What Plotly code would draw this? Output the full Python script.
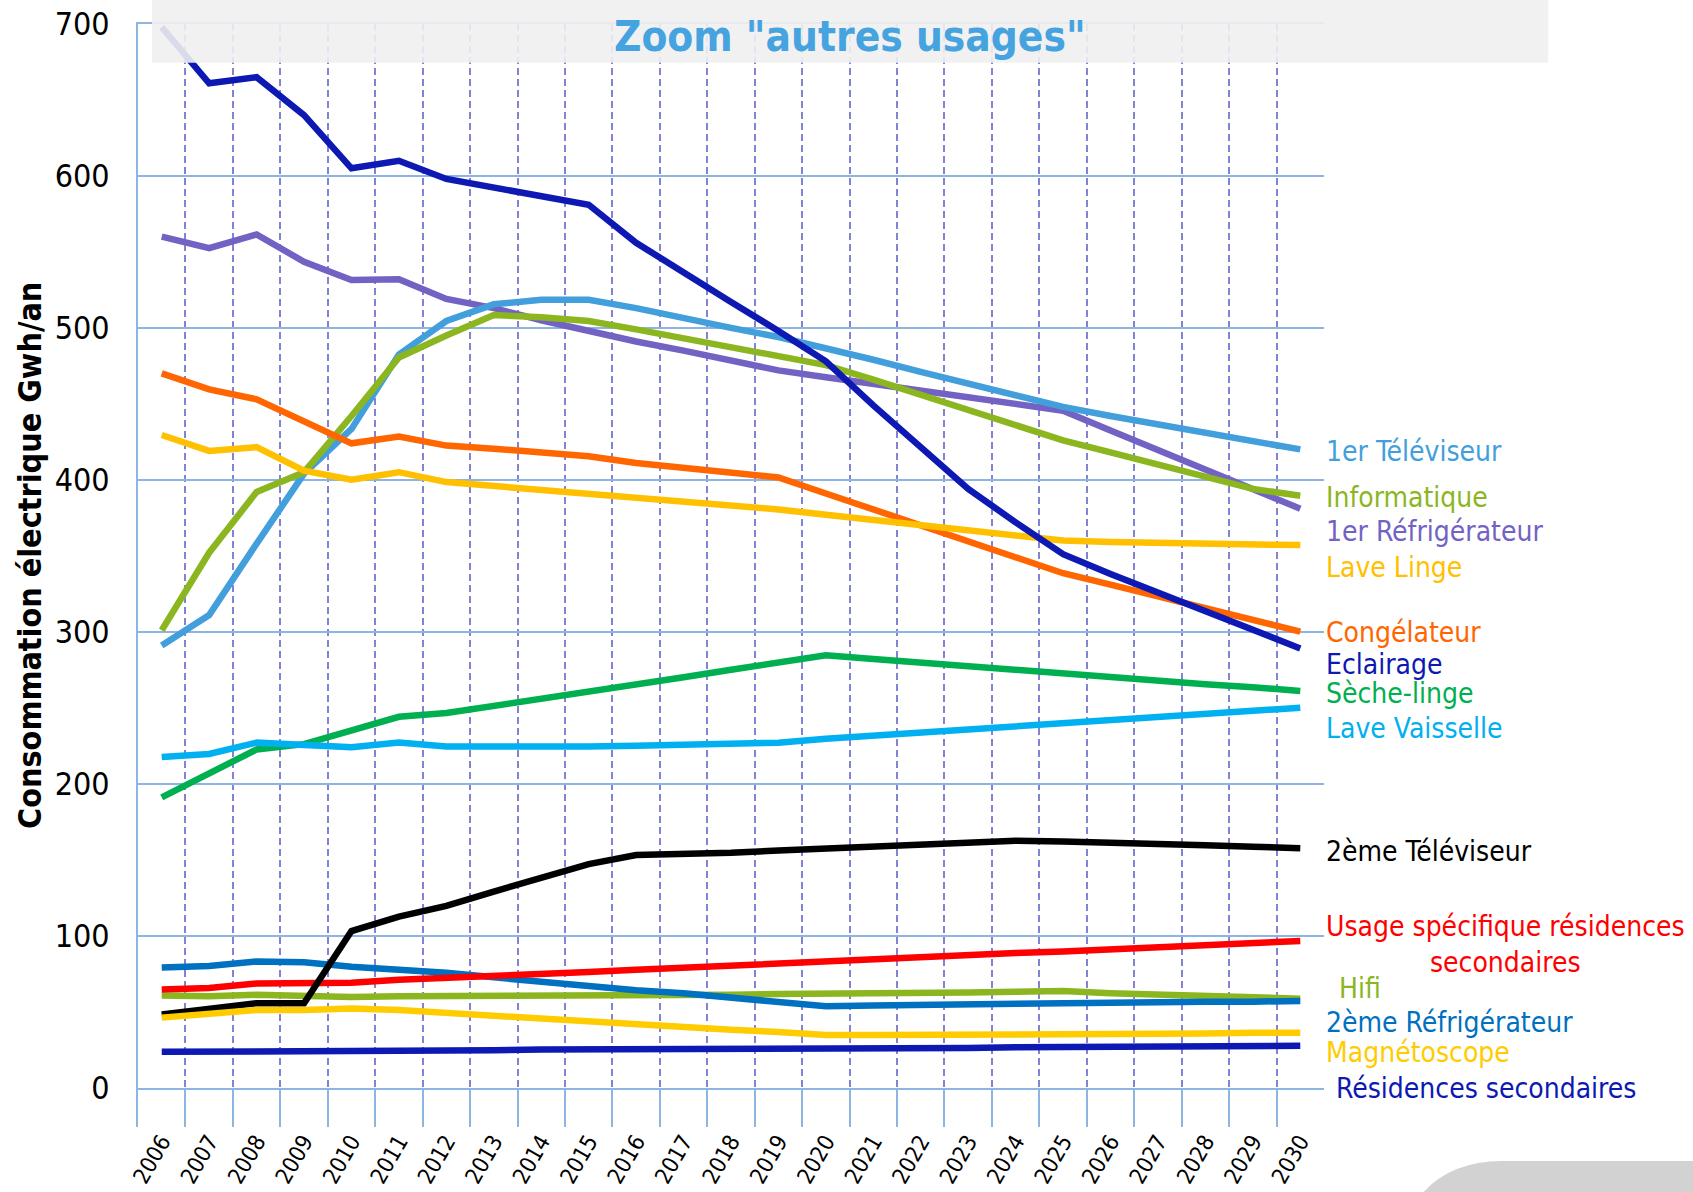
import plotly.graph_objects as go

years = [str(y) for y in range(2006, 2031)]

eclairage = [698, 661, 665, 640, 605, 610, 598, 592, 587, 581, 556, 536, 517, 498, 478, 449, 421, 394, 372, 351, 338, 326, 314, 301, 289]
refrig1 = [560, 552.5, 561.5, 543.5, 531.5, 532, 519, 513, 505, 497.5, 491, 485, 478, 472, 467.5, 463, 459, 454, 450, 445.5, 432.5, 419.5, 406.5, 393.5, 381]
televiseur1 = [291, 311, 358, 404, 433.5, 482.5, 504.5, 515.5, 518.5, 518.5, 513, 506, 500, 494, 487, 479, 471, 463.5, 456, 448, 442, 436.5, 431, 425, 420]
informatique = [301, 352, 392, 405, 442, 480.5, 495, 508.5, 507, 504.5, 499, 493, 487, 481, 475.5, 466, 456, 446, 436, 426, 418, 410, 402, 394, 389.5]
congelateur = [470, 459.5, 453, 439, 424, 428.5, 422.5, 420.5, 418.5, 415.5, 411, 408, 405, 401.5, 391, 380.5, 370, 359.5, 349, 338.5, 331, 323, 315.5, 308, 300]
lave_linge = [429.5, 419, 421.5, 406, 400, 405, 398.5, 396, 393.5, 391.5, 389, 386.5, 383.5, 380.5, 377, 373.5, 370, 366.5, 363, 360, 359, 358.5, 358, 357.5, 357]
seche_linge = [191, 207, 222.5, 226, 235, 244, 246.5, 251, 256, 260.5, 265, 270, 275, 279.5, 284.5, 282, 279.5, 277.5, 275, 272.5, 270.5, 268, 265.5, 263.5, 261]
lave_vaisselle = [217.5, 219.5, 227, 225.5, 224, 227, 224.5, 224.5, 224, 224.5, 225, 225.5, 226, 227, 229.5, 231.5, 233.5, 235.5, 237.5, 239.5, 242, 244, 246, 248, 250]
televiseur2 = [48, 51.5, 55.5, 55.5, 103, 112.5, 119.5, 129, 138, 147, 153, 153.5, 154.5, 156, 157.5, 158.5, 160, 161.5, 162.5, 162, 161.5, 160.5, 159.5, 158.5, 157.5]
usage_rs = [64.5, 65.5, 68.5, 68.5, 69, 71, 72, 73.5, 74.5, 76, 77.5, 79, 80, 81.5, 82.5, 84, 85.5, 87, 88.5, 89.5, 91, 92.5, 93.5, 95, 96.5]
hifi = [60.5, 60, 61, 60, 59.5, 60, 60, 60, 60, 60, 60.5, 61, 61, 61.5, 61.5, 62, 62, 62.5, 63, 63.5, 62, 61, 60, 59.5, 58.5]
refrig2 = [79, 80, 83, 82.5, 79.5, 78, 75.5, 72.5, 69.5, 67, 64, 62, 59.5, 56.5, 53.5, 54, 54.5, 54.5, 55, 55.5, 56, 56, 56.5, 56.5, 57]
magnetoscope = [46, 49, 51, 51, 52, 51, 49, 47, 45.5, 43.5, 42, 40, 38, 36.5, 34.5, 34.5, 34.5, 34.5, 34.5, 35, 35, 35.5, 35.5, 36, 36]
residences = [23.5, 23.5, 24.5, 24, 24, 24.5, 24.5, 24.5, 25, 25, 25, 25.5, 25.5, 25.5, 25.5, 26, 26, 26, 26.5, 26.5, 26.5, 26.5, 27, 27, 27.5]

# drawing order (first = bottom)
series = [
    ("1er Réfrigérateur", refrig1, "#7262c4"),
    ("1er Téléviseur", televiseur1, "#429fdc"),
    ("Informatique", informatique, "#8bb61f"),
    ("Congélateur", congelateur, "#ff6600"),
    ("Lave Linge", lave_linge, "#ffc000"),
    ("Eclairage", eclairage, "#0d19b2"),
    ("Sèche-linge", seche_linge, "#00b050"),
    ("Lave Vaisselle", lave_vaisselle, "#00b0f0"),
    ("Hifi", hifi, "#8bb61f"),
    ("2ème Réfrigérateur", refrig2, "#0070c0"),
    ("Usage spécifique résidences secondaires", usage_rs, "#ff0000"),
    ("2ème Téléviseur", televiseur2, "#000000"),
    ("Magnétoscope", magnetoscope, "#ffcc00"),
    ("Résidences secondaires", residences, "#0d19b2"),
]

# right-hand labels: text, colour, paper y, paper x
labels = [
    ("1er Téléviseur", "#429fdc", 0.6120, 1.0),
    ("Informatique", "#8bb61f", 0.5703, 1.0),
    ("1er Réfrigérateur", "#7262c4", 0.5403, 1.0),
    ("Lave Linge", "#ffc000", 0.5077, 1.0),
    ("Congélateur", "#ff6600", 0.4480, 1.0),
    ("Eclairage", "#0d19b2", 0.4195, 1.0),
    ("Sèche-linge", "#00b050", 0.3930, 1.0),
    ("Lave Vaisselle", "#00b0f0", 0.3617, 1.0),
    ("2ème Téléviseur", "#000000", 0.2502, 1.0),
    ("Usage spécifique résidences<br>secondaires", "#ff0000", 0.1659, 1.0),
    ("Hifi", "#8bb61f", 0.1260, 1.011),
    ("2ème Réfrigérateur", "#0070c0", 0.0950, 1.0),
    ("Magnétoscope", "#ffcc00", 0.0675, 1.0),
    ("Résidences secondaires", "#0d19b2", 0.0345, 1.0084),
]

FONT = "DejaVu Sans Condensed, Liberation Sans Narrow, DejaVu Sans, sans-serif"
GRIDBLUE = "#8db4e2"
DASHPURPLE = "#8383d6"

fig = go.Figure()
for name, vals, col in series:
    fig.add_trace(go.Scatter(x=years, y=vals, mode="lines", name=name,
                             line=dict(color=col, width=6.5), xaxis="x", yaxis="y"))
# invisible trace to register categories on the lower strip
fig.add_trace(go.Scatter(x=years, y=[None] * len(years), mode="lines",
                         xaxis="x2", yaxis="y2", showlegend=False, hoverinfo="skip"))

f = 0.0358
fig.update_layout(
    width=1693, height=1192,
    margin=dict(l=138, r=369, t=24, b=65, autoexpand=False),
    paper_bgcolor="white", plot_bgcolor="white",
    showlegend=False,
    font=dict(family=FONT, color="black"),
    xaxis=dict(domain=[0, 1], anchor="y", type="category", categoryorder="array",
               categoryarray=years, range=[-0.5, 24.5], tickson="boundaries",
               showgrid=True, gridcolor=DASHPURPLE, griddash="7px,4px", gridwidth=1.5,
               showticklabels=False, ticks="", showline=True, linecolor=GRIDBLUE,
               linewidth=2, mirror=True, automargin=False),
    yaxis=dict(domain=[f, 1], anchor="x", range=[0, 700], dtick=100,
               showgrid=True, gridcolor=GRIDBLUE, gridwidth=2, zeroline=False,
               showline=True, linecolor=GRIDBLUE, linewidth=2,
               tickfont=dict(size=32, family=FONT, color="black"),
               ticks="", ticklabelstandoff=20, automargin=False),
    xaxis2=dict(domain=[0, 1], anchor="y2", type="category", matches="x",
                categoryorder="array", categoryarray=years, tickson="boundaries",
                showgrid=True, gridcolor=GRIDBLUE, gridwidth=2, ticks="",
                tickangle=-60, tickfont=dict(size=22.5, family=FONT, color="black"),
                ticklabelstandoff=-4, showline=False, automargin=False),
    yaxis2=dict(domain=[0, f], anchor="x2", range=[-25.8, 0], showgrid=False,
                zeroline=False, showticklabels=False, ticks="",
                showline=True, linecolor=GRIDBLUE, linewidth=2, automargin=False),
)

annotations = []
for text, col, py, px in labels:
    annotations.append(dict(text=text, x=px, y=py, xref="paper", yref="paper",
                            xanchor="left", yanchor="middle", showarrow=False,
                            align="center", font=dict(size=28, color=col, family=FONT)))
annotations.append(dict(text="<b>Consommation électrique Gwh/an</b>", textangle=-90,
                        x=-0.0911, y=0.5186, xref="paper", yref="paper",
                        xanchor="center", yanchor="middle", showarrow=False,
                        font=dict(size=32, color="black", family=FONT)))
annotations.append(dict(text="<b>Zoom \"autres usages\"</b>", x=0.6, y=0.989,
                        xref="paper", yref="paper", xanchor="center", yanchor="middle",
                        showarrow=False, font=dict(size=42, color="#45a3e0", family=FONT)))
fig.update_layout(annotations=annotations)

fig.update_layout(shapes=[
    dict(type="rect", xref="paper", yref="paper", x0=0.0118, x1=1.189, y0=0.9649, y1=1.03,
         fillcolor="rgba(240,240,240,0.9)", line=dict(width=0), layer="above"),
    dict(type="path", xref="paper", yref="paper",
         path="M 1.076,-0.07 Q 1.10,-0.031 1.15,-0.0308 L 1.32,-0.0308 L 1.32,-0.07 Z",
         fillcolor="#d2d2d2", line=dict(width=0), layer="above"),
])

fig.write_html("out.html", config={"displayModeBar": False},
               post_script="document.body.style.margin='0px';")
